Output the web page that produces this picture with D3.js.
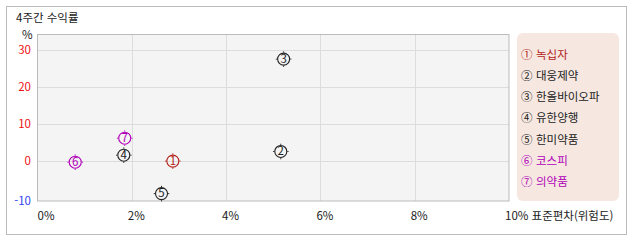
<!DOCTYPE html>
<html lang="ko">
<head>
<meta charset="UTF-8" />
<title>4주간 수익률</title>
<style>
  body { margin: 0; background: #fff; font-family: "Noto Sans CJK KR", "Noto Sans", sans-serif; }
  svg { display: block; }
  text { font-size: 11.5px; }
</style>
</head>
<body>
<svg width="638" height="242"></svg>
<script src="https://d3js.org/d3.v7.min.js"></script>
<script>
// data
const names = ["녹십자", "대웅제약", "한올바이오파", "유한양행", "한미약품", "코스피", "의약품"];
const stdDev = [2.87, 5.16, 5.22, 1.83, 2.63, 0.80, 1.85];   // 표준편차 (%)
const returns = [0.0, 2.6, 27.6, 1.6, -8.8, -0.3, 6.2];       // 4주 수익률 (%)
const colors = ["#b3221a", "#222", "#222", "#222", "#222", "#b000b8", "#b000b8"];
const xTicks = [0, 2, 4, 6, 8, 10];
const yTicks = [-10, 0, 10, 20, 30];
const circled = ["①", "②", "③", "④", "⑤", "⑥", "⑦"];

const svg = d3.select("svg");

// outer frame + title
svg.append("rect").attr("x", 6.5).attr("y", 6.5).attr("width", 620).attr("height", 228)
  .attr("fill", "#fff").attr("stroke", "#bbb");
svg.append("text").attr("x", 16).attr("y", 22).attr("fill", "#222").text("4주간 수익률");

const x = d3.scaleLinear().domain([0, 10]).range([37.5, 509]);
// axis bottom sits a little below -10, the -10 label is pinned to the bottom edge
const y = d3.scaleLinear().domain([-10.8, 34.4]).range([201, 34]);

// plot background
svg.append("rect").attr("x", 37.5).attr("y", 34.5).attr("width", 471.5).attr("height", 166.5)
  .attr("fill", "#f4f4f4");

// grid
svg.append("g").selectAll("line").data(xTicks.slice(1, -1)).join("line")
  .attr("x1", d => Math.round(x(d)) + 0.5).attr("x2", d => Math.round(x(d)) + 0.5)
  .attr("y1", 35).attr("y2", 201).attr("stroke", "#dcdcdc");
svg.append("g").selectAll("line").data(yTicks.slice(1)).join("line")
  .attr("x1", 38).attr("x2", 509)
  .attr("y1", d => Math.round(y(d)) + 0.5).attr("y2", d => Math.round(y(d)) + 0.5)
  .attr("stroke", "#dcdcdc");

svg.append("rect").attr("x", 37.5).attr("y", 34.5).attr("width", 471.5).attr("height", 166.5)
  .attr("fill", "none").attr("stroke", "#bbb");

// y axis labels
svg.append("text").attr("x", 22).attr("y", 39).attr("fill", "#222").attr("font-size", 9.5).text("%");
svg.append("g").selectAll("text").data(yTicks).join("text")
  .attr("x", 31).attr("y", (d, i) => (i === 0 ? y.range()[0] : y(d)) + 4).attr("text-anchor", "end")
  .attr("fill", d => d < 0 ? "#3344ee" : "#ee1111")
  .text(d => d);

// x axis labels
svg.append("g").selectAll("text").data(xTicks).join("text")
  .attr("x", (d, i) => i === 0 ? x(d) : x(d) - 4).attr("y", 220).attr("fill", "#222")
  .text((d, i) => i === xTicks.length - 1 ? d + "% 표준편차(위험도)" : d + "%");

// points: circled numbers
const pts = svg.append("g").selectAll("g").data(names).join("g")
  .attr("transform", (d, i) => `translate(${x(stdDev[i])},${y(returns[i])})`);
pts.append("circle").attr("r", 6).attr("fill", "none")
  .attr("stroke", (d, i) => colors[i]).attr("stroke-width", 1.1);
pts.each(function(d, i) {
  const g = d3.select(this);
  [[0, -6.5, 0, -7.8], [0, 6.5, 0, 7.8], [-6.5, 0, -7.8, 0], [6.5, 0, 7.8, 0]].forEach(t => {
    g.append("line").attr("x1", t[0]).attr("y1", t[1]).attr("x2", t[2]).attr("y2", t[3])
      .attr("stroke", colors[i]).attr("stroke-width", 0.9);
  });
});
pts.append("text").attr("text-anchor", "middle").attr("y", 3.8).attr("font-size", 10.5)
  .attr("fill", (d, i) => colors[i]).text((d, i) => i + 1);

// legend
svg.append("rect").attr("x", 517).attr("y", 33).attr("width", 102).attr("height", 168)
  .attr("rx", 6).attr("fill", "#f6e8e1");
const leg = svg.append("g").selectAll("text").data(names).join("text")
  .attr("x", 521).attr("y", (d, i) => 58.5 + i * 21.3)
  .attr("fill", (d, i) => colors[i]).attr("font-size", 12.5);
leg.append("tspan").text((d, i) => circled[i]);
leg.append("tspan").attr("x", 536).text(d => d);
</script>
</body>
</html>
